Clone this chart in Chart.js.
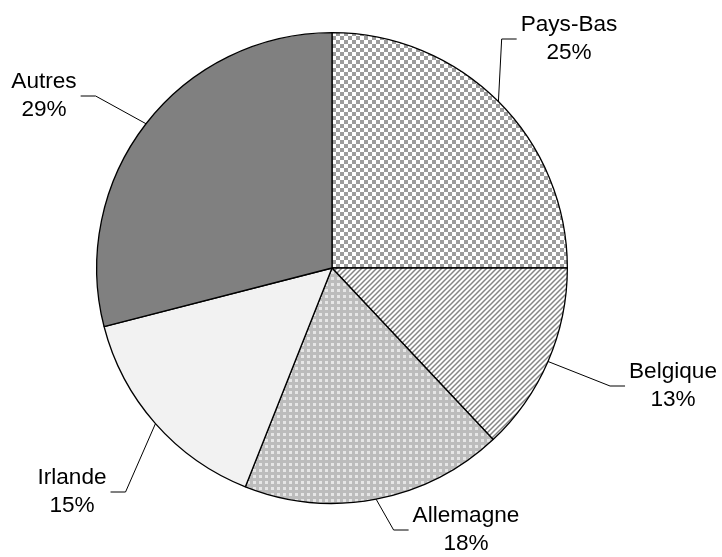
<!DOCTYPE html>
<html>
<head>
<meta charset="utf-8">
<script src="https://cdn.jsdelivr.net/npm/chart.js@4/dist/chart.umd.min.js"></script>
<style>
  html, body { margin: 0; padding: 0; background: #fff; }
</style>
</head>
<body>
<canvas id="myChart" width="722" height="557"></canvas>
<script>
// data
const categories = ['Pays-Bas', 'Belgique', 'Allemagne', 'Irlande', 'Autres'];
const shares = [25, 13, 18, 15, 29];

// label centre, relative to the pie centre (px)
const labelOffsets = [[237, -229], [341, 118], [134, 262], [-260, 224], [-288, -172]];

const FONT = '22.6px "Liberation Sans", Arial, sans-serif';

// fill patterns
function makeTile(w, h, draw) {
    const c = document.createElement('canvas');
    c.width = w; c.height = h;
    const g = c.getContext('2d');
    draw(g, w, h);
    return g.createPattern(c, 'repeat');
}

const checker = makeTile(8, 8, (g) => {
    g.fillStyle = '#fff'; g.fillRect(0, 0, 8, 8);
    g.fillStyle = '#9c9c9c';
    g.fillRect(0, 0, 4, 4);
    g.fillRect(4, 4, 4, 4);
});

const stripes = makeTile(5, 5, (g, w, h) => {
    g.fillStyle = '#fff'; g.fillRect(0, 0, w, h);
    g.strokeStyle = '#858585';
    g.lineWidth = 1.5;
    g.beginPath();
    g.moveTo(-1, h + 1); g.lineTo(w + 1, -1);
    g.moveTo(-1, 1); g.lineTo(1, -1);
    g.moveTo(w - 1, h + 1); g.lineTo(w + 1, h - 1);
    g.stroke();
});

const dots = makeTile(6, 6, (g) => {
    g.fillStyle = '#bcbcbc'; g.fillRect(0, 0, 6, 6);
    g.fillStyle = '#e6e6e6'; g.fillRect(1, 1, 3, 3);
});

const fills = [checker, stripes, dots, '#f2f2f2', '#808080'];

const leaderLabels = {
    id: 'leaderLabels',
    afterDatasetsDraw(chart) {
        const ctx = chart.ctx;
        const arcs = chart.getDatasetMeta(0).data;
        ctx.save();
        ctx.font = FONT;
        ctx.fillStyle = '#000';
        ctx.strokeStyle = '#000';
        ctx.lineWidth = 1;
        ctx.textAlign = 'center';
        ctx.textBaseline = 'middle';
        arcs.forEach((arc, i) => {
            const p = arc.getProps(['x', 'y', 'startAngle', 'endAngle', 'outerRadius'], true);
            const mid = (p.startAngle + p.endAngle) / 2;
            const ex = p.x + p.outerRadius * Math.cos(mid);
            const ey = p.y + p.outerRadius * Math.sin(mid);
            const tx = p.x + labelOffsets[i][0];
            const ty = p.y + labelOffsets[i][1];
            const lines = [categories[i], shares[i] + '%'];
            const tw = Math.max(...lines.map(l => ctx.measureText(l).width));
            const right = labelOffsets[i][0] > 0;
            const endX = right ? tx - tw / 2 - 4 : tx + tw / 2 + 4;
            const elbowX = right ? endX - 15 : endX + 15;
            ctx.beginPath();
            ctx.moveTo(ex, ey);
            ctx.lineTo(elbowX, ty);
            ctx.lineTo(endX, ty);
            ctx.stroke();
            ctx.fillText(lines[0], tx, ty - 14);
            ctx.fillText(lines[1], tx, ty + 14);
        });
        ctx.restore();
    }
};

new Chart(document.getElementById('myChart').getContext('2d'), {
    type: 'pie',
    data: {
        labels: categories,
        datasets: [{
            data: shares,
            backgroundColor: fills,
            borderColor: '#000',
            borderWidth: 1.3
        }]
    },
    options: {
        responsive: false,
        animation: false,
        layout: { padding: { left: 96, right: 154, top: 32, bottom: 53 } },
        plugins: {
            legend: { display: false },
            tooltip: { enabled: false }
        }
    },
    plugins: [leaderLabels]
});
</script>
</body>
</html>
